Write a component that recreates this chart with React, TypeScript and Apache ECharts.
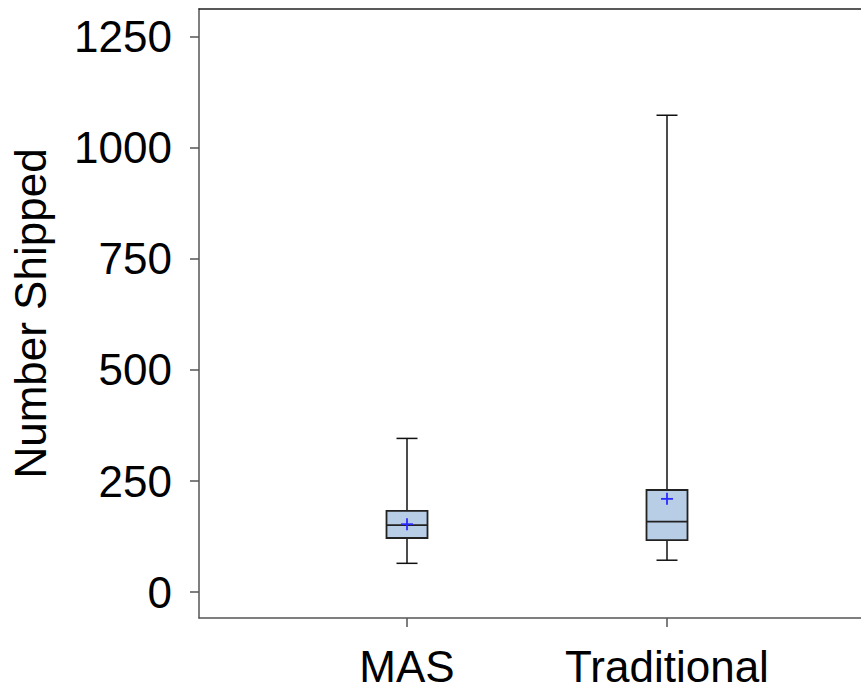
import React, { useEffect, useRef } from "react";
import * as echarts from "echarts";

const categories = ["MAS", "Traditional"];
const xPositions = [1, 2];
const whiskerLow = [65, 72];
const q1 = [122, 117];
const median = [151, 159];
const q3 = [183, 230];
const whiskerHigh = [346, 1073];
const means = [153, 210];
const yTicks = [0, 250, 500, 750, 1000, 1250];

export default function App() {
  const ref = useRef<HTMLDivElement>(null);
  useEffect(() => {
    if (!ref.current) return;
    const chart = echarts.init(ref.current, null, { renderer: "svg" });
    const data = categories.map((_, i) => [
      xPositions[i],
      whiskerLow[i],
      q1[i],
      median[i],
      q3[i],
      whiskerHigh[i],
      means[i],
    ]);
    const font = "'Liberation Sans', Arial, sans-serif";
    chart.setOption({
      animation: false,
      grid: {
        left: 199,
        top: 9,
        right: 0,
        bottom: 71,
        show: false,
      },
      xAxis: [
        {
          type: "value",
          min: 0.2,
          max: 2.85,
          splitLine: { show: false },
          axisLine: { show: true, onZero: false, lineStyle: { color: "#555", width: 1.5 } },
          axisTick: {
            show: true,
            customValues: xPositions,
            length: 9,
            lineStyle: { color: "#555", width: 1.5 },
          },
          axisLabel: {
            customValues: xPositions,
            formatter: (v: number) => {
              const i = xPositions.indexOf(Math.round(v));
              return i >= 0 ? categories[i] : "";
            },
            fontSize: 44,
            fontFamily: font,
            color: "#000",
            margin: 26,
          },
        },
        {
          type: "value",
          position: "top",
          min: 0.2,
          max: 2.85,
          splitLine: { show: false },
          axisLine: { show: true, onZero: false, lineStyle: { color: "#222", width: 1.5 } },
          axisTick: { show: false },
          axisLabel: { show: false },
        },
      ],
      yAxis: {
        type: "value",
        min: -58,
        max: 1312,
        name: "Number Shipped",
        nameLocation: "middle",
        nameGap: 147,
        nameTextStyle: { fontSize: 44, fontFamily: font, color: "#000" },
        splitLine: { show: false },
        axisLine: { show: true, onZero: false, lineStyle: { color: "#555", width: 1.5 } },
        axisTick: {
          show: true,
          customValues: yTicks,
          length: 9,
          lineStyle: { color: "#555", width: 1.5 },
        },
        axisLabel: {
          customValues: yTicks,
          formatter: (v: number) => String(v),
          fontSize: 44,
          fontFamily: font,
          color: "#000",
          margin: 27,
        },
      },
      series: [
        {
          type: "custom",
          xAxisIndex: 0,
          data,
          encode: { x: 0, y: [1, 2, 3, 4, 5, 6] },
          renderItem: (params: any, api: any) => {
            const x = api.value(0);
            const lo = api.coord([x, api.value(1)]);
            const b1 = api.coord([x, api.value(2)]);
            const md = api.coord([x, api.value(3)]);
            const b3 = api.coord([x, api.value(4)]);
            const hi = api.coord([x, api.value(5)]);
            const mn = api.coord([x, api.value(6)]);
            const cx = lo[0];
            const bw = 41;
            const cw = 21;
            const ms = 6;
            const lineStyle = { stroke: "#111", lineWidth: 1.5 };
            return {
              type: "group",
              children: [
                { type: "line", shape: { x1: cx, y1: b3[1], x2: cx, y2: hi[1] }, style: lineStyle },
                { type: "line", shape: { x1: cx, y1: b1[1], x2: cx, y2: lo[1] }, style: lineStyle },
                { type: "line", shape: { x1: cx - cw / 2, y1: hi[1], x2: cx + cw / 2, y2: hi[1] }, style: lineStyle },
                { type: "line", shape: { x1: cx - cw / 2, y1: lo[1], x2: cx + cw / 2, y2: lo[1] }, style: lineStyle },
                {
                  type: "rect",
                  shape: { x: cx - bw / 2, y: b3[1], width: bw, height: b1[1] - b3[1] },
                  style: { fill: "#b8cde6", stroke: "#222", lineWidth: 1.8 },
                },
                { type: "line", shape: { x1: cx - bw / 2, y1: md[1], x2: cx + bw / 2, y2: md[1] }, style: { stroke: "#222", lineWidth: 1.8 } },
                { type: "line", shape: { x1: cx - ms, y1: mn[1], x2: cx + ms, y2: mn[1] }, style: { stroke: "#2a2aff", lineWidth: 1.8 } },
                { type: "line", shape: { x1: cx, y1: mn[1] - ms, x2: cx, y2: mn[1] + ms }, style: { stroke: "#2a2aff", lineWidth: 1.8 } },
              ],
            };
          },
        },
      ],
    });
    return () => chart.dispose();
  }, []);
  return (
    <div
      style={{ position: "absolute", left: 0, top: 0, width: 861, height: 689, overflow: "hidden", background: "#fff" }}
    >
      <div ref={ref} style={{ width: 888, height: 689 }} />
    </div>
  );
}
